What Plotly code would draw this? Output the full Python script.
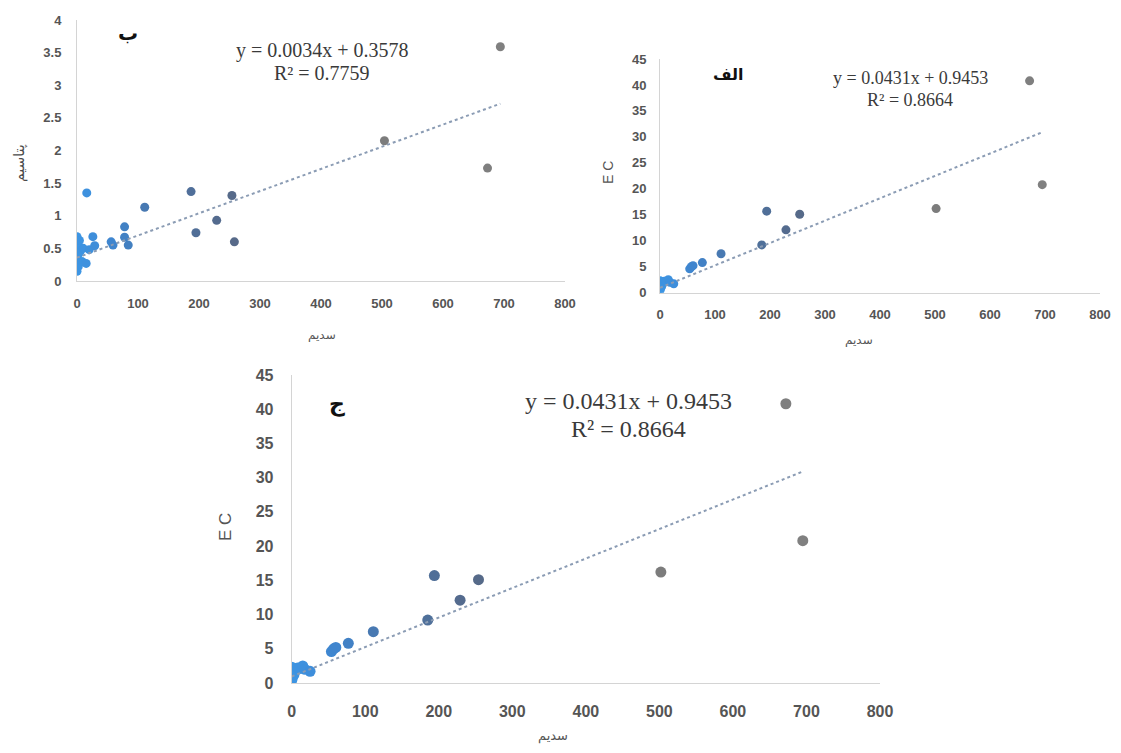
import plotly.graph_objects as go

# page offset of the figure inside the browser (default body margin on each side)
OFF = 8
W, H = 1121 - 2 * OFF, 753 - 2 * OFF

# ---- data ----
sodium_k = [0, 0, 1, 1, 2, 2, 3, 0, 1, 4, 2, 5, 8, 10, 15, 16, 20, 26, 29, 56, 59, 78, 78, 84,
            111, 187, 195, 229, 254, 258, 504, 673, 694]
potassium_k = [0.68, 0.15, 0.6, 0.3, 0.5, 0.22, 0.42, 0.35, 0.55, 0.62, 0.25, 0.45, 0.3, 0.5,
               0.27, 1.35, 0.48, 0.68, 0.54, 0.6, 0.55, 0.83, 0.67, 0.55, 1.13, 1.37, 0.74,
               0.93, 1.31, 0.6, 2.15, 1.73, 3.59]

sodium_ec = [0, 0, 1, 2, 3, 4, 5, 8, 10, 15, 18, 25, 54, 57, 60, 77, 111, 185, 194, 229, 254,
             502, 672, 695]
ec_values = [0.4, 2.3, 0.8, 1.5, 1.2, 2.0, 1.8, 2.2, 2.1, 2.5, 2.0, 1.7, 4.6, 5.0, 5.2, 5.8,
             7.5, 9.2, 15.7, 12.1, 15.1, 16.2, 40.8, 20.8]

k_slope, k_intercept, k_r2 = 0.0034, 0.3578, 0.7759
ec_slope, ec_intercept, ec_r2 = 0.0431, 0.9453, 0.8664

x_ticks = [0, 100, 200, 300, 400, 500, 600, 700, 800]
k_ticks = [0, 0.5, 1, 1.5, 2, 2.5, 3, 3.5, 4]
ec_ticks = [0, 5, 10, 15, 20, 25, 30, 35, 40, 45]

title_k = "پتاسیم"
title_na = "سدیم"
title_ec = "E C"
label_a, label_b, label_c = "الف", "ب", "ج"

# ---- styling ----
marker_scale = [[0.0, "#3d95e3"], [0.08, "#3f86d0"], [0.18, "#4a76aa"],
                [0.35, "#55698a"], [0.7, "#7c7c7c"], [1.0, "#808080"]]
trend_color = "#8b9cb4"
tick_color = "#555555"
axis_line = "#d4d4d4"


def fx(x):
    return (x - OFF) / W


def fy(y):
    return 1 - (y - OFF) / H


def bold_labels(vals):
    return [f"<b>{v:g}</b>" for v in vals]


fig = go.Figure()

panels = [
    (sodium_k, potassium_k, k_slope, k_intercept, "x", "y", 9),
    (sodium_ec, ec_values, ec_slope, ec_intercept, "x2", "y2", 9),
    (sodium_ec, ec_values, ec_slope, ec_intercept, "x3", "y3", 11),
]

for xs, ys, m, b, xa, ya, ms in panels:
    fig.add_trace(go.Scatter(
        x=xs, y=ys, mode="markers", xaxis=xa, yaxis=ya, showlegend=False,
        marker=dict(size=ms, color=xs, colorscale=marker_scale, cmin=0, cmax=700,
                    showscale=False, line=dict(width=0)),
    ))
    x0, x1 = min(xs), max(xs)
    fig.add_trace(go.Scatter(
        x=[x0, x1], y=[m * x0 + b, m * x1 + b], mode="lines", xaxis=xa, yaxis=ya,
        showlegend=False, line=dict(color=trend_color, width=2, dash="dot"),
    ))


def xax(dom, size, standoff, anchor):
    return dict(domain=dom, range=[0, 800], tickvals=x_ticks, ticktext=bold_labels(x_ticks),
                showgrid=False, zeroline=False, automargin=False, anchor=anchor,
                showline=True, linecolor=axis_line, linewidth=1, ticks="",
                ticklabelstandoff=standoff,
                tickfont=dict(family="Liberation Sans", size=size, color=tick_color))


def yax(dom, rng, vals, size, standoff, anchor):
    return dict(domain=dom, range=rng, tickvals=vals, ticktext=bold_labels(vals),
                showgrid=False, zeroline=False, automargin=False, anchor=anchor,
                showline=True, linecolor=axis_line, linewidth=1, ticks="",
                ticklabelstandoff=standoff,
                tickfont=dict(family="Liberation Sans", size=size, color=tick_color))


d1x = [fx(77), fx(565)]
d1y = [fy(281), fy(20)]
d2x = [fx(660), fx(1100)]
d2y = [fy(292.7), fy(59)]
d3x = [fx(291.7), fx(880)]
d3y = [fy(683), fy(375)]

fig.update_layout(
    width=W, height=H, margin=dict(l=0, r=0, t=0, b=0, pad=0, autoexpand=False),
    paper_bgcolor="white", plot_bgcolor="white",
    xaxis=xax(d1x, 13, 10, "y"),
    yaxis=yax(d1y, [0, 4], k_ticks, 13, 12, "x"),
    xaxis2=xax(d2x, 13, 10, "y2"),
    yaxis2=yax(d2y, [0, 45], ec_ticks, 13, 10, "x2"),
    xaxis3=xax(d3x, 16, 14, "y3"),
    yaxis3=yax(d3y, [0, 45], ec_ticks, 16, 14, "x3"),
)

ann = []


def add_text(text, x, y, size, family, color, bold=False, angle=0):
    ann.append(dict(text=f"<b>{text}</b>" if bold else text, x=fx(x), y=fy(y),
                    xref="paper", yref="paper", showarrow=False,
                    xanchor="center", yanchor="middle", textangle=angle,
                    font=dict(family=family, size=size, color=color)))


serif = "Liberation Serif"
# top-left
add_text(label_b, 128, 33, 20, "DejaVu Sans", "#111111", bold=True)
add_text(f"y = {k_slope}x + {k_intercept}", 322, 51, 20, serif, "#3a3a3a")
add_text(f"R² = {k_r2}", 322, 73, 20, serif, "#3a3a3a")
add_text(title_k, 19, 163, 14, "DejaVu Sans", "#4a4a4a", angle=-90)
add_text(title_na, 322, 335, 12, "DejaVu Sans", "#555555")
# top-right
add_text(label_a, 728, 74, 16, "DejaVu Sans", "#111111", bold=True)
add_text(f"y = {ec_slope}x + {ec_intercept}", 910, 78, 18, serif, "#3a3a3a")
add_text(f"R² = {ec_r2}", 910, 100, 18, serif, "#3a3a3a")
add_text(title_ec, 608, 173, 14, "Liberation Sans", "#555555", angle=-90)
add_text(title_na, 859, 340, 12, "DejaVu Sans", "#555555")
# bottom
add_text(label_c, 337, 404, 22, "DejaVu Sans", "#111111", bold=True)
add_text(f"y = {ec_slope}x + {ec_intercept}", 628, 401, 24, serif, "#3a3a3a")
add_text(f"R² = {ec_r2}", 628, 429, 24, serif, "#3a3a3a")
add_text(title_ec, 225, 527, 17, "Liberation Sans", "#555555", angle=-90)
add_text(title_na, 553, 736, 13, "DejaVu Sans", "#555555")

fig.update_layout(annotations=ann)

fig.write_html("out.html")
